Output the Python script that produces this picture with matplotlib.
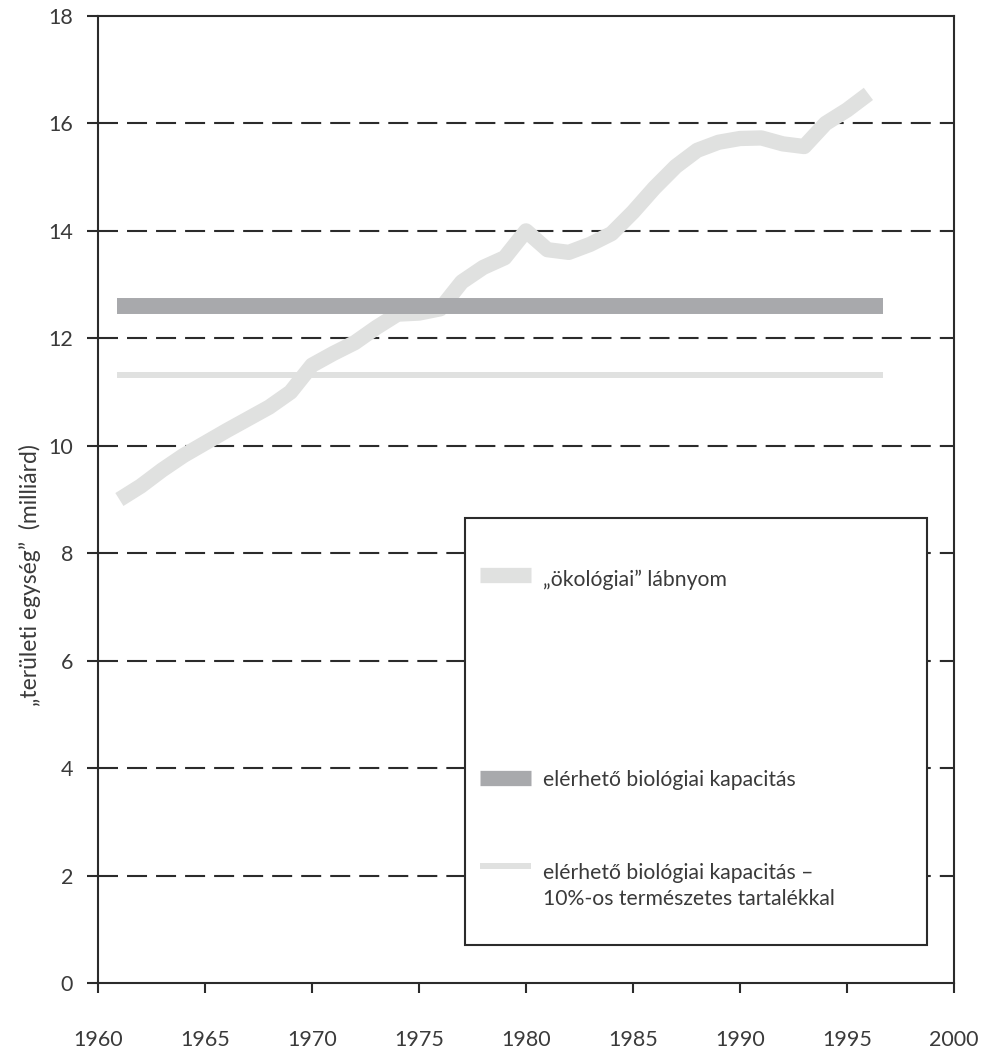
import matplotlib
matplotlib.use("Agg")
import matplotlib.pyplot as plt
from matplotlib.patches import Rectangle
from matplotlib.lines import Line2D

plt.rcParams['font.family'] = ['Lato', 'DejaVu Sans']
plt.rcParams['lines.scale_dashes'] = False

# ecological footprint, billion area units
years = [1961, 1962, 1963, 1964, 1965, 1966, 1967, 1968, 1969, 1970,
         1971, 1972, 1973, 1974, 1975, 1976, 1977, 1978, 1979, 1980,
         1981, 1982, 1983, 1984, 1985, 1986, 1987, 1988, 1989, 1990,
         1991, 1992, 1993, 1994, 1995, 1996]
footprint = [9.0, 9.25, 9.55, 9.82, 10.05, 10.28, 10.5, 10.72, 11.0, 11.5,
             11.72, 11.92, 12.2, 12.45, 12.47, 12.55, 13.05, 13.32, 13.5, 14.0,
             13.65, 13.6, 13.75, 13.95, 14.35, 14.8, 15.2, 15.5, 15.65, 15.72,
             15.73, 15.62, 15.57, 16.0, 16.25, 16.55]

# available biocapacity, with and without the 10% reserve
capacity_span = [1960.9, 1996.7]
capacity = 12.6
capacity_reserve = 11.32

yticks = [0, 2, 4, 6, 8, 10, 12, 14, 16, 18]
xticks = [1960, 1965, 1970, 1975, 1980, 1985, 1990, 1995, 2000]

labels = ['„ökológiai” lábnyom',
          'elérhető biológiai kapacitás',
          'elérhető biológiai kapacitás –\n10%-os természetes tartalékkal']

c_foot = '#e0e1e0'
c_cap = '#a8a9ac'
c_res = '#e0e1e0'
c_ink = '#2b2b2b'
c_txt = '#3a3a3a'

W, H = 982, 1052
fig = plt.figure(figsize=(W / 100, H / 100), dpi=100)
ax = fig.add_axes([98 / W, 1 - 983 / H, (954 - 98) / W, (983 - 16) / H])

for y in yticks[1:-1]:
    ax.axhline(y, color=c_ink, lw=1.5, dashes=(14.4, 6.5), zorder=1)

ax.plot(years, footprint, color=c_foot, lw=11, solid_joinstyle='round',
        solid_capstyle='butt', zorder=2)
ax.plot(capacity_span, [capacity, capacity], color=c_cap, lw=11.5,
        solid_capstyle='butt', zorder=3)
ax.plot(capacity_span, [capacity_reserve, capacity_reserve], color=c_res, lw=4.3,
        solid_capstyle='butt', zorder=3)

ax.set_xlim(1960, 2000)
ax.set_ylim(0, 18)
ax.set_xticks(xticks)
ax.set_yticks(yticks)
for s in ax.spines.values():
    s.set_color(c_ink)
    s.set_linewidth(1.5)
ax.tick_params(axis='x', direction='out', length=7, width=1.5, color=c_ink,
               pad=27, labelsize=15.5, labelcolor=c_txt)
ax.tick_params(axis='y', direction='out', length=8, width=1.5, color=c_ink,
               pad=10, labelsize=15.5, labelcolor=c_txt)

fig.text(30 / W, 1 - 575 / H, '„területi egység”  (milliárd)', rotation=90,
         ha='center', va='center', fontsize=16.5, color=c_txt)

# legend box
def fx(px):
    return px / W

def fy(py):
    return 1 - py / H

box = Rectangle((fx(465), fy(945)), fx(927) - fx(465), fy(518) - fy(945),
                transform=fig.transFigure, facecolor='white', edgecolor=c_ink,
                lw=1.5, zorder=5)
fig.add_artist(box)

entries = [(c_foot, 11, 575, 580), (c_cap, 11, 778, 780), (c_res, 4.3, 866, 886)]
for (col, lw, ly, ty), lab in zip(entries, labels):
    fig.add_artist(Line2D([fx(480), fx(531)], [fy(ly), fy(ly)], color=col, lw=lw,
                          solid_capstyle='butt', transform=fig.transFigure, zorder=6))
    fig.text(fx(543), fy(ty), lab, ha='left', va='center', fontsize=15.2,
             color=c_txt, linespacing=1.4, zorder=6)

fig.savefig('out.png', dpi=100)
